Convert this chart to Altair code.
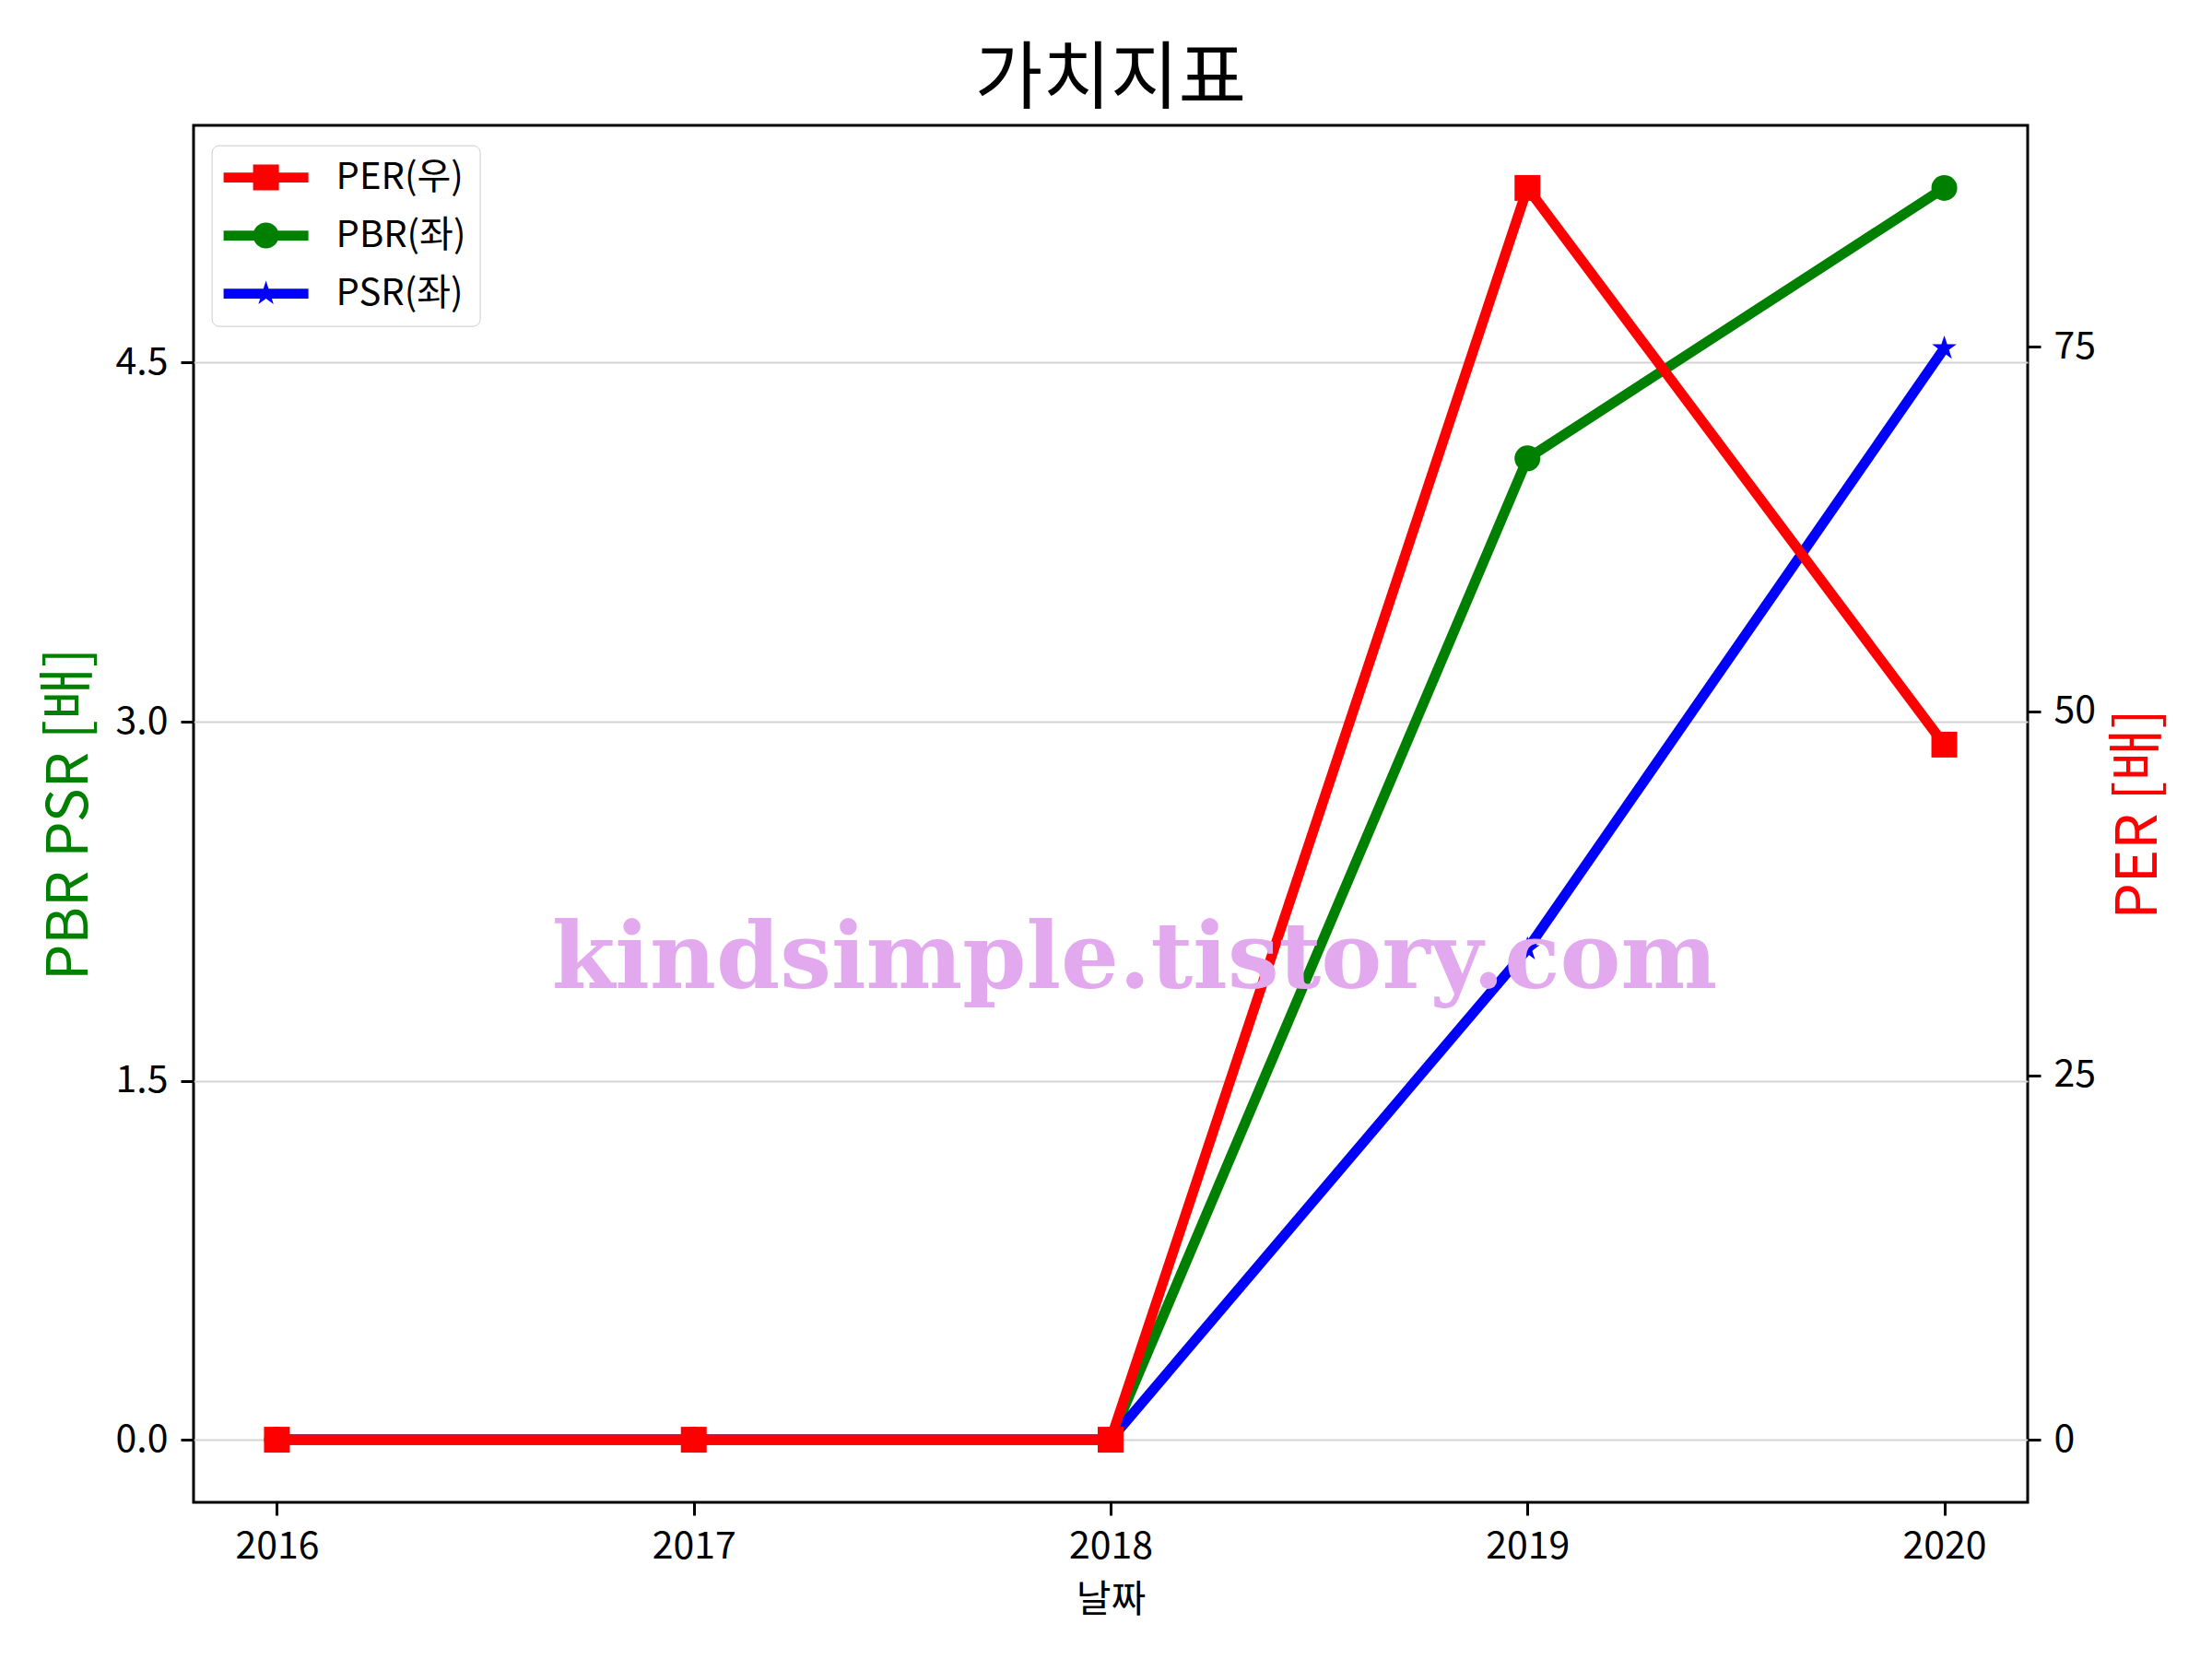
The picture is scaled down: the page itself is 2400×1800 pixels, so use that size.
import math
import altair as alt
import pandas as pd

# ---------------- data ----------------
years = [2016, 2017, 2018, 2019, 2020]
per = [0.0, 0.0, 0.0, 85.9, 47.7]
pbr = [0.0, 0.0, 0.0, 4.10, 5.23]
psr = [0.0, 0.0, 0.0, 2.05, 4.56]
series_names = ["PER(우)", "PBR(좌)", "PSR(좌)"]
series_colors = ["red", "green", "blue"]
left_ticks = [0.0, 1.5, 3.0, 4.5]
right_ticks = [0, 25, 50, 75]

FONT = "Noto Sans CJK KR"
W, H = 1990, 1494
LW = 11
MS = 784  # marker size (28px)

# ---------------- symbol paths ----------------
def star_path(cx=0.0):
    pts = []
    for k in range(10):
        th = math.radians(-90 + 36 * k)
        r = 1.0 if k % 2 == 0 else 0.382
        pts.append(f"{cx + r * math.cos(th):.3f},{r * math.sin(th):.3f}")
    return "M" + "L".join(pts) + "Z"

line_p = "M-1,-0.39H5.571V0.39H-1Z"
c = 2.286
leg_square = line_p + f"M{c-1:.3f},-1H{c+1:.3f}V1H{c-1:.3f}Z"
leg_circle = line_p + f"M{c-1:.3f},0A1,1,0,1,1,{c+1:.3f},0A1,1,0,1,1,{c-1:.3f},0Z"
leg_star = line_p + star_path(c)
legend_paths = [leg_square, leg_circle, leg_star]

# ---------------- scales / axes ----------------
x_scale = alt.Scale(domain=[2015.8, 2020.2], nice=False, zero=False)
yl_scale = alt.Scale(domain=[-0.2615, 5.4915], nice=False, zero=False)
yr_scale = alt.Scale(domain=[-4.295, 90.195], nice=False, zero=False)

x_axis = alt.Axis(values=years, format="d", title="날짜", grid=False,
                  titleX=W / 2, titleY=106, titleBaseline="middle",
                  titleFontSize=41, titleFont=FONT, titleFontWeight="normal",
                  titleColor="black")
yl_axis = alt.Axis(values=left_ticks, format=".1f", title="PBR PSR [배]",
                   grid=True, gridColor="#d3d3d3", gridWidth=2,
                   titleColor="green", titleFontSize=62, titleFont=FONT,
                   titleFontWeight="normal", titleAngle=270, titleX=-135,
                   titleY=H / 2, titleBaseline="middle", titleAlign="center")
yr_axis = alt.Axis(values=right_ticks, format="d", title="PER [배]",
                   orient="right", grid=False,
                   titleColor="red", titleFontSize=62, titleFont=FONT,
                   titleFontWeight="normal", titleAngle=270, titleX=120,
                   titleY=H / 2, titleBaseline="middle", titleAlign="center")

df_pbr = pd.DataFrame({"year": years, "value": pbr})
df_psr = pd.DataFrame({"year": years, "value": psr})
df_per = pd.DataFrame({"year": years, "value": per})
df_leg = pd.DataFrame({"year": [2018] * 3, "value": [0.0] * 3,
                       "series": series_names})

X = alt.X("year:Q", scale=x_scale, axis=x_axis)
YL = alt.Y("value:Q", scale=yl_scale, axis=yl_axis)
YR = alt.Y("value:Q", scale=yr_scale, axis=yr_axis)


def series_layers(df, color, shape, Y):
    line = alt.Chart(df).mark_line(color=color, strokeWidth=LW).encode(x=X, y=Y)
    pts = alt.Chart(df).mark_point(filled=True, color=color, shape=shape,
                                   size=MS, opacity=1, strokeWidth=0).encode(x=X, y=Y)
    return [line, pts]


legend_cfg = dict(title=None, orient="none", legendX=19.6, legendY=21.6,
                  padding=15, rowPadding=23, labelFont=FONT, labelFontSize=40,
                  labelOffset=88, symbolOffset=-8, symbolSize=MS,
                  symbolStrokeWidth=0, symbolOpacity=1, strokeColor="#cccccc",
                  fillColor="white", cornerRadius=8, labelColor="black",
                  labelLimit=500)

legend_layer = alt.Chart(df_leg).mark_point(filled=True, opacity=0).encode(
    x=X, y=YL,
    color=alt.Color("series:N", sort=series_names,
                    scale=alt.Scale(domain=series_names, range=series_colors),
                    legend=alt.Legend(**legend_cfg)),
    shape=alt.Shape("series:N", sort=series_names,
                    scale=alt.Scale(domain=series_names, range=legend_paths),
                    legend=alt.Legend(**legend_cfg)),
)

left = alt.layer(*series_layers(df_pbr, "green", "circle", YL),
                 *series_layers(df_psr, "blue", star_path(0.0), YL),
                 legend_layer)
right = alt.layer(*series_layers(df_per, "red", "square", YR))

watermark = alt.Chart(pd.DataFrame({"t": ["kindsimple.tistory.com"]})).mark_text(
    font="DejaVu Serif", fontWeight="bold", fontSize=99, color="#E3A9EE",
    align="center", baseline="alphabetic"
).encode(text="t:N", x=alt.value(1021), y=alt.value(936))

chart = alt.layer(left, right, watermark).resolve_scale(y="independent").properties(
    width=W, height=H,
    background="white",
    title=alt.TitleParams("가치지표", fontSize=80, font=FONT, fontWeight="normal",
                          color="black", anchor="middle", offset=8),
    autosize=alt.AutoSizeParams(type="none"),
    padding={"left": 202, "top": 128, "right": 192, "bottom": 162},
).configure_view(stroke="black", strokeWidth=3).configure_axis(
    domain=False, tickSize=14, tickWidth=3, tickColor="black",
    labelPadding=14, labelFont=FONT, labelFontSize=41, labelColor="black",
)

chart.save("out.html", embed_options={"renderer": "svg", "actions": False})
